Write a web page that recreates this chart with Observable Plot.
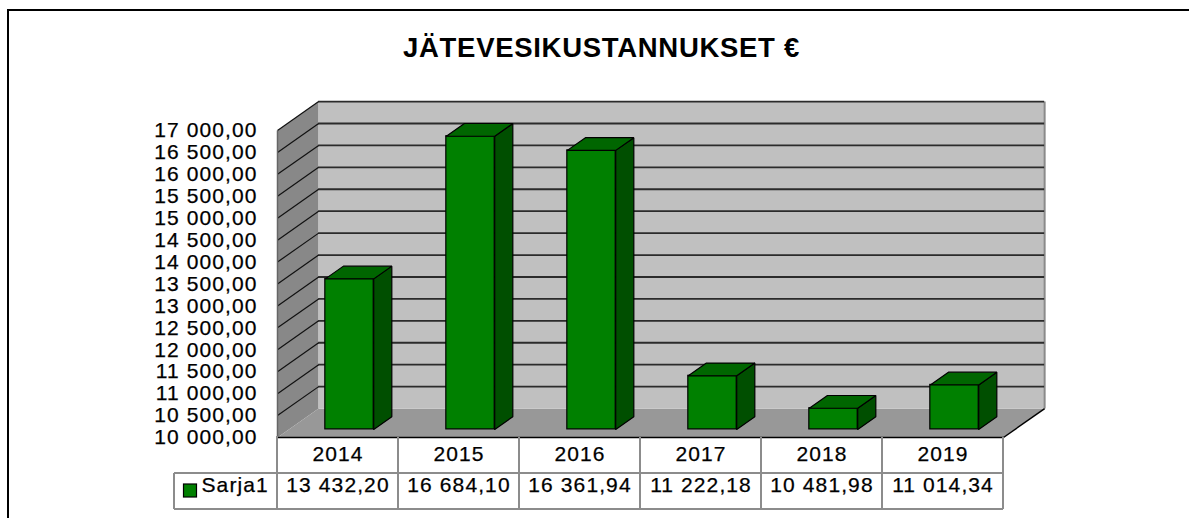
<!DOCTYPE html>
<html><head><meta charset="utf-8">
<script src="https://cdn.jsdelivr.net/npm/d3@7"></script>
<script src="https://cdn.jsdelivr.net/npm/@observablehq/plot@0.6"></script>
<style>
html,body{margin:0;padding:0;background:#fff;overflow:hidden}
#wrap{position:relative;width:1189px;height:518px;overflow:hidden;font-family:"Liberation Sans",Arial,sans-serif}
#frame{position:absolute;left:7px;top:9px;width:1300px;height:700px;border:2px solid #000;box-sizing:border-box}
#chart{position:absolute;left:0;top:0}
#title{position:absolute;left:0;width:1203px;top:34px;line-height:27px;text-align:center;font-weight:bold;font-size:27.5px;letter-spacing:0.7px;color:#000}
#chart text{stroke:#000;stroke-width:0.25px}
</style></head><body>
<div id="wrap"><div id="frame"></div><div id="chart"></div><div id="title">JÄTEVESIKUSTANNUKSET €</div></div>
<script>
// ---- data ----
const years = ["2014", "2015", "2016", "2017", "2018", "2019"];
const costs = [13432.20, 16684.10, 16361.94, 11222.18, 10481.98, 11014.34];
const seriesName = "Sarja1";
const yTicks = [10000, 10500, 11000, 11500, 12000, 12500, 13000, 13500, 14000, 14500, 15000, 15500, 16000, 16500, 17000];

// ---- 3D projection constants (data units) ----
const DX = 0.34, DY = 660;          // depth offset of back plane
const HALF = 0.2;                   // half bar width (band units)
const F0 = 0.28, F1 = 0.72;         // bar depth (front / back fraction)
const N = years.length;
const yMin = yTicks[0], yMax = yTicks[yTicks.length - 1];

const fi = d3.formatLocale({decimal: ",", thousands: " ", grouping: [3], currency: ["", " €"]});
const fmt = fi.format(",.2f");

const rows = years.map((year, i) => ({year, i, v: costs[i]}));

// polygons
const sideWall = [[0, yMin], [0, yMax], [DX, yMax + DY], [DX, yMin + DY], [0, yMin]].map(([x, y]) => ({x, y}));
const floor = [[0, yMin], [N, yMin], [N + DX, yMin + DY], [DX, yMin + DY], [0, yMin]].map(([x, y]) => ({x, y}));

const sideFaces = rows.flatMap(d => {
  const xr = d.i + 0.5 + HALF;
  return [[xr + F0 * DX, yMin + F0 * DY], [xr + F0 * DX, d.v + F0 * DY], [xr + F1 * DX, d.v + F1 * DY], [xr + F1 * DX, yMin + F1 * DY], [xr + F0 * DX, yMin + F0 * DY]]
    .map(([x, y]) => ({id: d.year, x, y}));
});
const topFaces = rows.flatMap(d => {
  const xl = d.i + 0.5 - HALF, xr = d.i + 0.5 + HALF;
  return [[xl + F0 * DX, d.v + F0 * DY], [xr + F0 * DX, d.v + F0 * DY], [xr + F1 * DX, d.v + F1 * DY], [xl + F1 * DX, d.v + F1 * DY], [xl + F0 * DX, d.v + F0 * DY]]
    .map(([x, y]) => ({id: d.year, x, y}));
});

const GREEN = "#008000", GREEN_TOP = "#006600", GREEN_SIDE = "#004f00";

// data table grid + legend key, positioned with the plot's scales
function tableGrid(index, scales) {
  const x = scales.x, y = scales.y;
  const top = y(yMin), r1 = top + 36, r2 = top + 72, legendLeft = x(0) - 103;
  const g = d3.create("svg:g");
  const lines = g.append("g").attr("stroke", "#8c8c8c").attr("stroke-width", 2).attr("fill", "none");
  for (let i = 0; i <= N; i++) {
    lines.append("line").attr("x1", x(i)).attr("x2", x(i)).attr("y1", i === 0 ? top - 1 : top).attr("y2", r2);
  }
  lines.append("line").attr("x1", legendLeft).attr("x2", x(N)).attr("y1", r1).attr("y2", r1);
  lines.append("line").attr("x1", legendLeft).attr("x2", x(N)).attr("y1", r2).attr("y2", r2);
  lines.append("line").attr("x1", legendLeft).attr("x2", legendLeft).attr("y1", r1).attr("y2", r2);
  g.append("rect").attr("x", legendLeft + 9.5).attr("y", r1 + 11).attr("width", 13).attr("height", 13)
    .attr("fill", GREEN).attr("stroke", "#000").attr("stroke-width", 1.2);
  return g.node();
}

const chart = Plot.plot({
  width: 1189,
  height: 518,
  marginLeft: 277,
  marginRight: 186,
  marginTop: 130,
  marginBottom: 81,
  style: {fontFamily: "'Liberation Sans', Arial, sans-serif", fontSize: "21px", letterSpacing: "1.1px", background: "transparent", color: "#000"},
  x: {domain: [0, N], axis: null},
  y: {domain: [yMin, yMax], ticks: yTicks, tickFormat: fmt, tickSize: 0, tickPadding: 20, label: null},
  marks: [
    // walls
    Plot.line(sideWall, {x: "x", y: "y", fill: "#888888", stroke: "none"}),
    Plot.line(floor, {x: "x", y: "y", fill: "#989898", stroke: "none"}),
    Plot.rect([0], {x1: () => DX, x2: () => N + DX, y1: () => yMin + DY, y2: () => yMax + DY, fill: "#c0c0c0"}),
    Plot.link([0], {x1: () => N + DX, x2: () => N + DX, y1: () => yMin + DY, y2: () => yMax + DY, stroke: "#8a8a8a", strokeWidth: 2}),
    // gridlines
    Plot.ruleY(yTicks.slice(1), {y: v => v + DY, x1: () => DX, x2: () => N + DX, stroke: "#2b2b2b", strokeWidth: 1.8}),
    Plot.link(yTicks.slice(1), {x1: () => 0, y1: v => v, x2: () => DX, y2: v => v + DY, stroke: "#111", strokeWidth: 1.2}),
    Plot.link([0], {x1: () => 0, x2: () => 0, y1: () => yMin, y2: () => yMax, stroke: "#666", strokeWidth: 1.5}),
    // floor edges
    Plot.link([0], {x1: () => 0, x2: () => N, y1: () => yMin, y2: () => yMin, stroke: "#000", strokeWidth: 1.5}),
    Plot.link([0], {x1: () => N, x2: () => N + DX, y1: () => yMin, y2: () => yMin + DY, stroke: "#000", strokeWidth: 1.5}),
    // bars
    Plot.rect(rows, {
      x1: d => d.i + 0.5 - HALF + F0 * DX, x2: d => d.i + 0.5 + HALF + F0 * DX,
      y1: () => yMin + F0 * DY, y2: d => d.v + F0 * DY,
      fill: GREEN, stroke: "#000", strokeWidth: 1.2
    }),
    Plot.line(sideFaces, {x: "x", y: "y", z: "id", fill: GREEN_SIDE, stroke: "#000", strokeWidth: 1.2, strokeLinejoin: "miter"}),
    Plot.line(topFaces, {x: "x", y: "y", z: "id", fill: GREEN_TOP, stroke: "#000", strokeWidth: 1.2, strokeLinejoin: "miter"}),
    // data table
    tableGrid,
    Plot.text(rows, {x: d => d.i + 0.5, text: "year", frameAnchor: "bottom", dy: 23, fill: "#000"}),
    Plot.text(rows, {x: d => d.i + 0.5, text: d => fmt(d.v), frameAnchor: "bottom", dy: 54, fill: "#000"}),
    Plot.text([seriesName], {x: () => 0, text: d => d, frameAnchor: "bottom", dx: -76, dy: 54, textAnchor: "start", fill: "#000"})
  ]
});
document.getElementById("chart").appendChild(chart);
</script>
</body></html>
